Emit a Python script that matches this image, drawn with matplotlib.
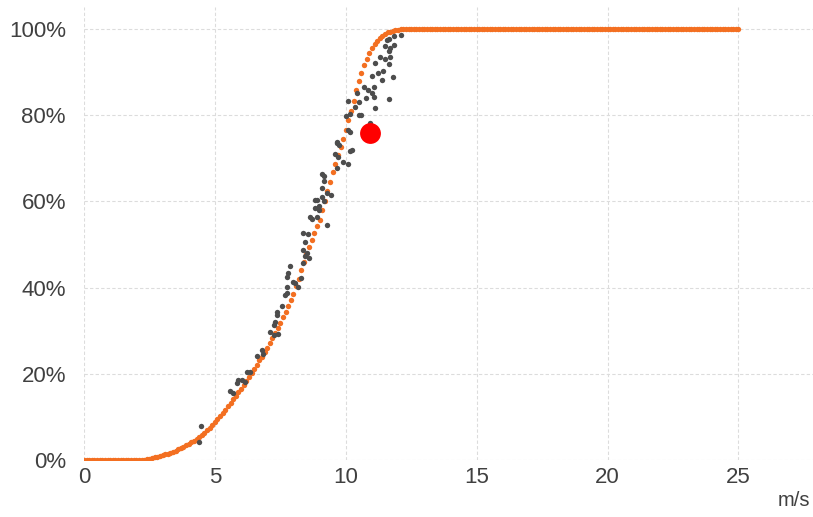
import matplotlib
matplotlib.use("Agg")
import matplotlib.pyplot as plt
from matplotlib.ticker import FuncFormatter

# Orange power curve: wind speed (m/s) at 0.1 steps and power (% of rated)
curve_speed = [round(i * 0.1, 1) for i in range(251)]
curve_power = [
    0, 0, 0, 0, 0, 0, 0, 0, 0, 0,
    0, 0, 0, 0, 0, 0, 0, 0, 0, 0,
    0, 0, 0, 0.1, 0.2, 0.3, 0.4, 0.6, 0.75, 0.9,
    1.1, 1.3, 1.5, 1.7, 1.95, 2.2, 2.5, 2.8, 3.1, 3.4,
    3.7, 4.1, 4.5, 4.9, 5.3, 5.7, 6.3, 6.9, 7.5, 8.1,
    8.8, 9.5, 10.2, 10.9, 11.7, 12.5, 13.3, 14.1, 14.9, 15.7,
    16.5, 17.4, 18.3, 19.3, 20.2, 21.2, 22.1, 23.1, 24.0, 25.0,
    26.0, 27.1, 28.2, 29.4, 30.6, 31.8, 33.1, 34.4, 35.8, 37.1,
    38.5, 40.3, 42.1, 44.0, 45.9, 47.8, 49.4, 51.0, 52.6, 54.2,
    55.8, 58.0, 60.2, 62.4, 64.6, 66.8, 68.8, 70.8, 72.7, 74.6,
    76.5, 78.8, 81.0, 83.2, 85.8, 88.0, 89.8, 91.6, 93.1, 94.5,
    95.6, 96.5, 97.3, 98.0, 98.5, 98.9, 99.2, 99.4, 99.6, 99.75,
    99.85, 99.9, 99.95, 100, 100, 100, 100, 100, 100, 100,
    100, 100, 100, 100, 100, 100, 100, 100, 100, 100,
    100, 100, 100, 100, 100, 100, 100, 100, 100, 100,
    100, 100, 100, 100, 100, 100, 100, 100, 100, 100,
    100, 100, 100, 100, 100, 100, 100, 100, 100, 100,
    100, 100, 100, 100, 100, 100, 100, 100, 100, 100,
    100, 100, 100, 100, 100, 100, 100, 100, 100, 100,
    100, 100, 100, 100, 100, 100, 100, 100, 100, 100,
    100, 100, 100, 100, 100, 100, 100, 100, 100, 100,
    100, 100, 100, 100, 100, 100, 100, 100, 100, 100,
    100, 100, 100, 100, 100, 100, 100, 100, 100, 100,
    100, 100, 100, 100, 100, 100, 100, 100, 100, 100,
    100, 100, 100, 100, 100, 100, 100, 100, 100, 100,
    100,
]

# Gray measured points
meas_speed = [
    4.41, 4.48, 5.58, 5.71, 5.83, 5.90, 6.03, 6.15, 6.22, 6.35,
    6.60, 6.79, 6.85, 7.11, 7.24, 7.40, 7.26, 7.30, 7.39, 7.36,
    7.56, 7.68, 7.74, 7.77, 8.19, 8.00, 8.07, 8.28, 7.77, 7.81,
    7.87, 8.38, 8.61, 8.45, 8.51, 8.38, 8.45, 8.38, 8.57, 8.64,
    8.70, 8.89, 9.28, 8.83, 8.96, 8.96, 8.83, 8.89, 9.08, 9.15,
    9.28, 9.43, 9.08, 9.17, 9.08, 9.17, 9.68, 9.91, 10.10, 9.59,
    9.72, 9.66, 9.76, 10.23, 10.17, 9.68, 10.10, 10.17, 10.02, 10.17,
    10.52, 10.58, 10.91, 10.10, 10.36, 10.49, 10.42, 10.78, 11.06, 11.12,
    11.64, 10.71, 11.06, 10.84, 10.99, 10.99, 11.25, 11.38, 11.80, 11.44,
    11.12, 11.29, 11.51, 11.70, 11.64, 11.64, 11.51, 11.70, 11.85, 11.57,
    11.83, 12.10, 11.64,
]
meas_power = [
    4.2, 8.0, 15.9, 15.5, 17.8, 18.6, 18.6, 18.2, 20.5, 20.5,
    24.1, 25.5, 24.6, 29.8, 29.0, 29.2, 31.3, 32.1, 33.6, 34.4,
    35.7, 38.3, 38.7, 40.2, 40.2, 41.4, 41.0, 42.2, 42.5, 43.3,
    45.0, 45.6, 46.8, 47.3, 48.0, 48.7, 50.6, 52.7, 52.4, 56.5,
    55.9, 56.5, 54.5, 58.4, 58.0, 59.0, 60.3, 60.3, 61.0, 60.0,
    61.9, 61.6, 63.2, 64.8, 66.3, 65.9, 67.7, 69.2, 68.7, 71.0,
    70.4, 73.6, 73.1, 71.9, 71.6, 73.9, 76.6, 76.0, 79.8, 80.4,
    80.0, 80.0, 78.2, 83.4, 82.0, 83.0, 85.1, 84.1, 84.2, 81.6,
    83.8, 86.6, 86.5, 85.9, 85.2, 89.2, 89.8, 88.2, 88.9, 90.2,
    92.2, 93.5, 93.0, 93.4, 91.9, 94.8, 96.0, 95.5, 96.3, 97.5,
    98.3, 98.6, 97.8,
]

# Highlighted point
point_speed = [10.93]
point_power = [75.9]

x_ticks = [0, 5, 10, 15, 20, 25]
y_ticks = [0, 20, 40, 60, 80, 100]
x_unit = "m/s"

plt.rcParams['font.family'] = ['Liberation Sans', 'DejaVu Sans']

fig = plt.figure(figsize=(8.13, 5.17), dpi=100)
ax = fig.add_axes([84 / 813, 1 - 460 / 517, 1 - 84 / 813, (460 - 7.5) / 517])

ax.scatter(curve_speed, curve_power, s=15, color='#F36F21', linewidths=0, zorder=3)
ax.scatter(meas_speed, meas_power, s=15, color='#4d4d4d', linewidths=0, zorder=4)
ax.scatter(point_speed, point_power, s=225, color='#FF0000', linewidths=0, zorder=5)

ax.set_xlim(0, 27.85)
ax.set_ylim(0, 105)
ax.set_xticks(x_ticks)
ax.set_yticks(y_ticks)
ax.yaxis.set_major_formatter(FuncFormatter(lambda v, p: f"{int(v)}%"))
ax.tick_params(axis='both', length=0, labelsize=16, labelcolor='#404040')
ax.tick_params(axis='y', pad=13)
ax.tick_params(axis='x', pad=5)
ax.grid(True, color='#dcdcdc', linestyle=(0, (3, 2)), linewidth=0.8, zorder=0)
ax.set_axisbelow(True)
for s in ax.spines.values():
    s.set_visible(False)

fig.text(810 / 813, 1 - 501 / 517, x_unit, ha='right', va='center',
         fontsize=14.5, color='#404040')

fig.savefig("out.png", dpi=100)
